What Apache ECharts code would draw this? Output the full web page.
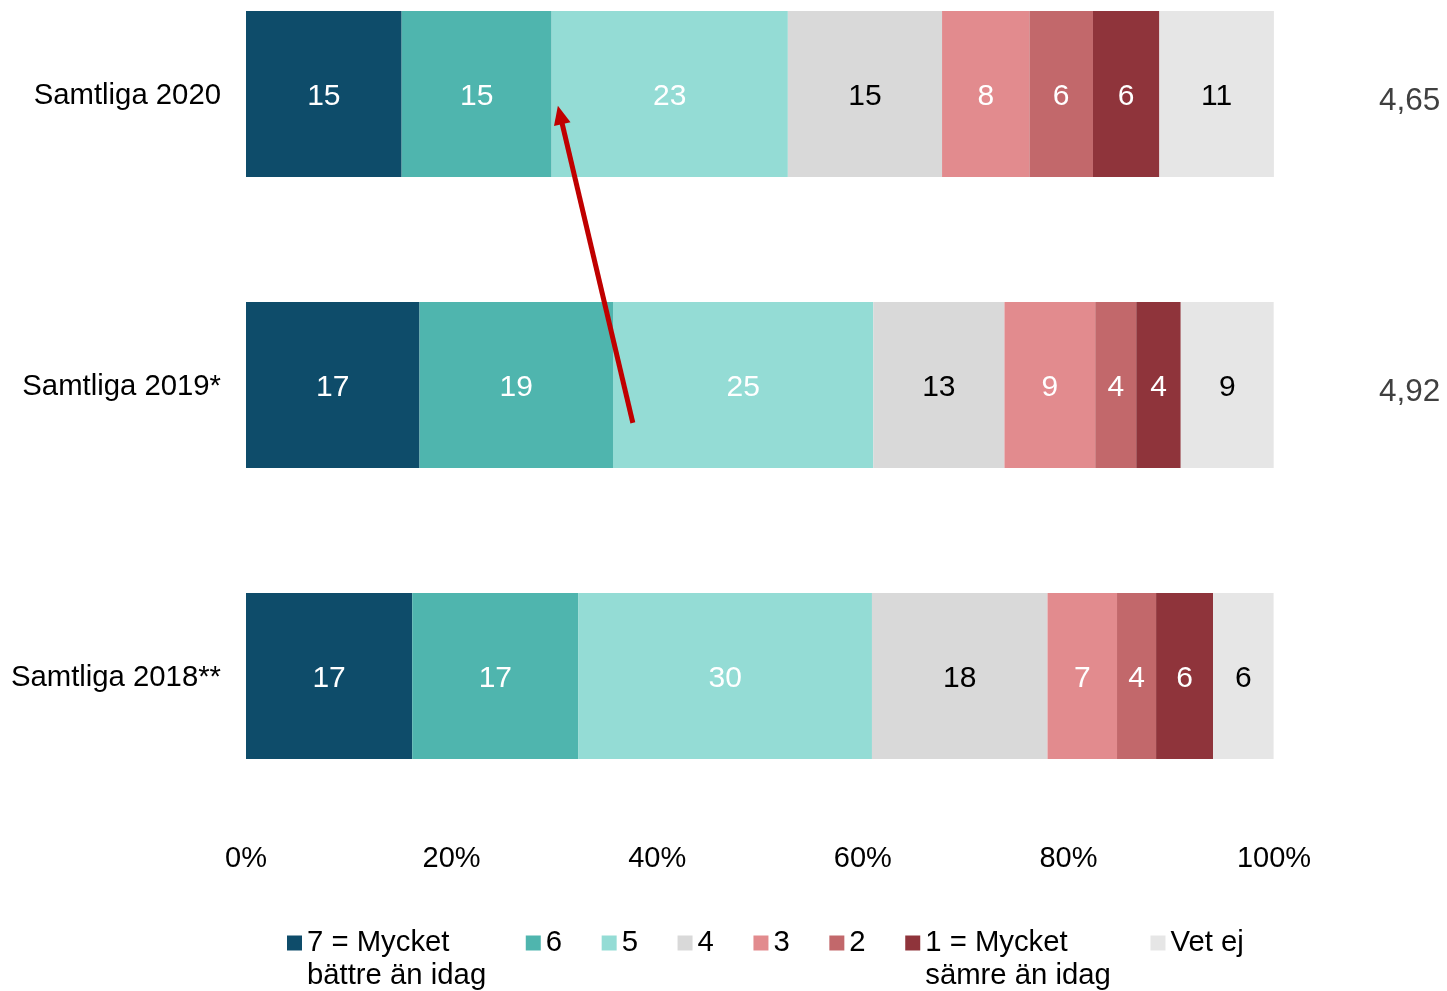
<!DOCTYPE html>
<html><head><meta charset="utf-8">
<script src="https://cdn.jsdelivr.net/npm/echarts@6/dist/echarts.min.js"></script>
<style>html,body{margin:0;padding:0;background:#fff}#c{width:1447px;height:991px}</style>
</head><body><div id="c"></div>
<script>
// Categories (top to bottom)
const categories = ['Samtliga 2020', 'Samtliga 2019*', 'Samtliga 2018**'];
// Mean scores shown at the right of each bar
const meanScores = ['4,65', '4,92', ''];
// Legend / series names
const seriesNames = ['7 = Mycket\nbättre än idag', '6', '5', '4', '3', '2', '1 = Mycket\nsämre än idag', 'Vet ej'];
// Bar shares (% of each 100% bar), rows: 2020, 2019*, 2018**
const share7 = [15.14, 16.88, 16.17];
const share6 = [14.59, 18.82, 16.17];
const share5 = [22.98, 25.32, 28.55];
const share4 = [15.00, 12.76, 17.08];
const share3 = [8.50, 8.83, 6.76];
const share2 = [6.18, 3.99, 3.80];
const share1 = [6.46, 4.33, 5.54];
const shareVet = [11.14, 9.04, 5.89];
// Printed value labels
const label7 = [15, 17, 17];
const label6 = [15, 19, 17];
const label5 = [23, 25, 30];
const label4 = [15, 13, 18];
const label3 = [8, 9, 7];
const label2 = [6, 4, 4];
const label1 = [6, 4, 6];
const labelVet = [11, 9, 6];
// X axis ticks (percent)
const xTickMin = 0, xTickMax = 100, xTickStep = 20;

const shares = [share7, share6, share5, share4, share3, share2, share1, shareVet];
const labels = [label7, label6, label5, label4, label3, label2, label1, labelVet];
const colors = ['#0E4C6A', '#4FB5AE', '#94DCD5', '#D9D9D9', '#E28B8E', '#C2686B', '#8F343B', '#E6E6E6'];
const labelColors = ['#fff', '#fff', '#fff', '#000', '#fff', '#fff', '#fff', '#000'];
const FONT = '"Liberation Sans", Arial, sans-serif';

const chart = echarts.init(document.getElementById('c'), null, {renderer: 'canvas'});

const series = seriesNames.map((name, i) => ({
  name: name,
  type: 'bar',
  stack: 'total',
  barWidth: 166,
  yAxisIndex: 0,
  itemStyle: {color: colors[i]},
  emphasis: {disabled: true},
  label: {
    show: true,
    position: 'inside',
    offset: [0, 3],
    fontFamily: FONT,
    fontSize: 30,
    color: labelColors[i],
    formatter: p => String(labels[i][p.dataIndex])
  },
  data: shares[i]
}));

chart.setOption({
  animation: false,
  backgroundColor: '#fff',
  textStyle: {fontFamily: FONT},
  grid: {left: 246, top: -51.5, width: 1028, height: 873, containLabel: false, outerBoundsMode: 'none'},
  xAxis: {
    type: 'value',
    min: xTickMin, max: xTickMax, interval: xTickStep,
    axisLine: {show: false}, axisTick: {show: false}, splitLine: {show: false},
    axisLabel: {formatter: '{value}%', fontFamily: FONT, fontSize: 29, color: '#000', margin: 23}
  },
  yAxis: [{
    type: 'category', data: categories, inverse: true,
    axisLine: {show: false}, axisTick: {show: false},
    axisLabel: {
      margin: 25,
      formatter: v => '{c|' + v + '}',
      rich: {c: {fontFamily: FONT, fontSize: 29.3, color: '#000', padding: [3, 0, 0, 0]}}
    }
  }, {
    type: 'category', data: meanScores, inverse: true, position: 'right',
    axisLine: {show: false}, axisTick: {show: false},
    axisLabel: {
      margin: 105,
      formatter: v => v ? '{p|' + v + '}' : '',
      rich: {p: {fontFamily: FONT, fontSize: 31.5, color: '#404040', padding: [14, 0, 0, 0]}}
    }
  }],
  legend: {
    left: 282, top: 888.5,
    itemWidth: 15, itemHeight: 15, itemGap: 39.6,
    icon: 'rect',
    selectedMode: false,
    formatter: n => n.indexOf('\n') >= 0 ? '\n' + n : n,
    textStyle: {fontFamily: FONT, fontSize: 29.3, color: '#000', lineHeight: 33},
    data: seriesNames
  },
  series: series
});

// Red arrow annotation (data space: x in %, row index + fraction of row spacing)
const arrowFrom = {x: 37.63, row: 1, shift: 0.13};
const arrowTo = {x: 30.34, row: 0, shift: 0.04};
function toPixel(p) {
  const x = chart.convertToPixel({xAxisIndex: 0}, p.x);
  const yc0 = chart.convertToPixel({yAxisIndex: 0}, categories[0]);
  const yc1 = chart.convertToPixel({yAxisIndex: 0}, categories[1]);
  const yr = chart.convertToPixel({yAxisIndex: 0}, categories[p.row]);
  return [x, yr + p.shift * (yc1 - yc0)];
}
const a = toPixel(arrowFrom), b = toPixel(arrowTo);
const dx = b[0] - a[0], dy = b[1] - a[1], len = Math.hypot(dx, dy);
const ux = dx / len, uy = dy / len, nx = -uy, ny = ux;
const headLen = 19, headHalf = 8.5;
const base = [b[0] - ux * headLen, b[1] - uy * headLen];
chart.setOption({
  graphic: [{
    type: 'line', z: 100,
    shape: {x1: a[0], y1: a[1], x2: base[0] + ux * 2, y2: base[1] + uy * 2},
    style: {stroke: '#C00000', lineWidth: 5}
  }, {
    type: 'polygon', z: 100,
    shape: {points: [b, [base[0] + nx * headHalf, base[1] + ny * headHalf], [base[0] - nx * headHalf, base[1] - ny * headHalf]]},
    style: {fill: '#C00000'}
  }]
});
</script>
</body></html>
